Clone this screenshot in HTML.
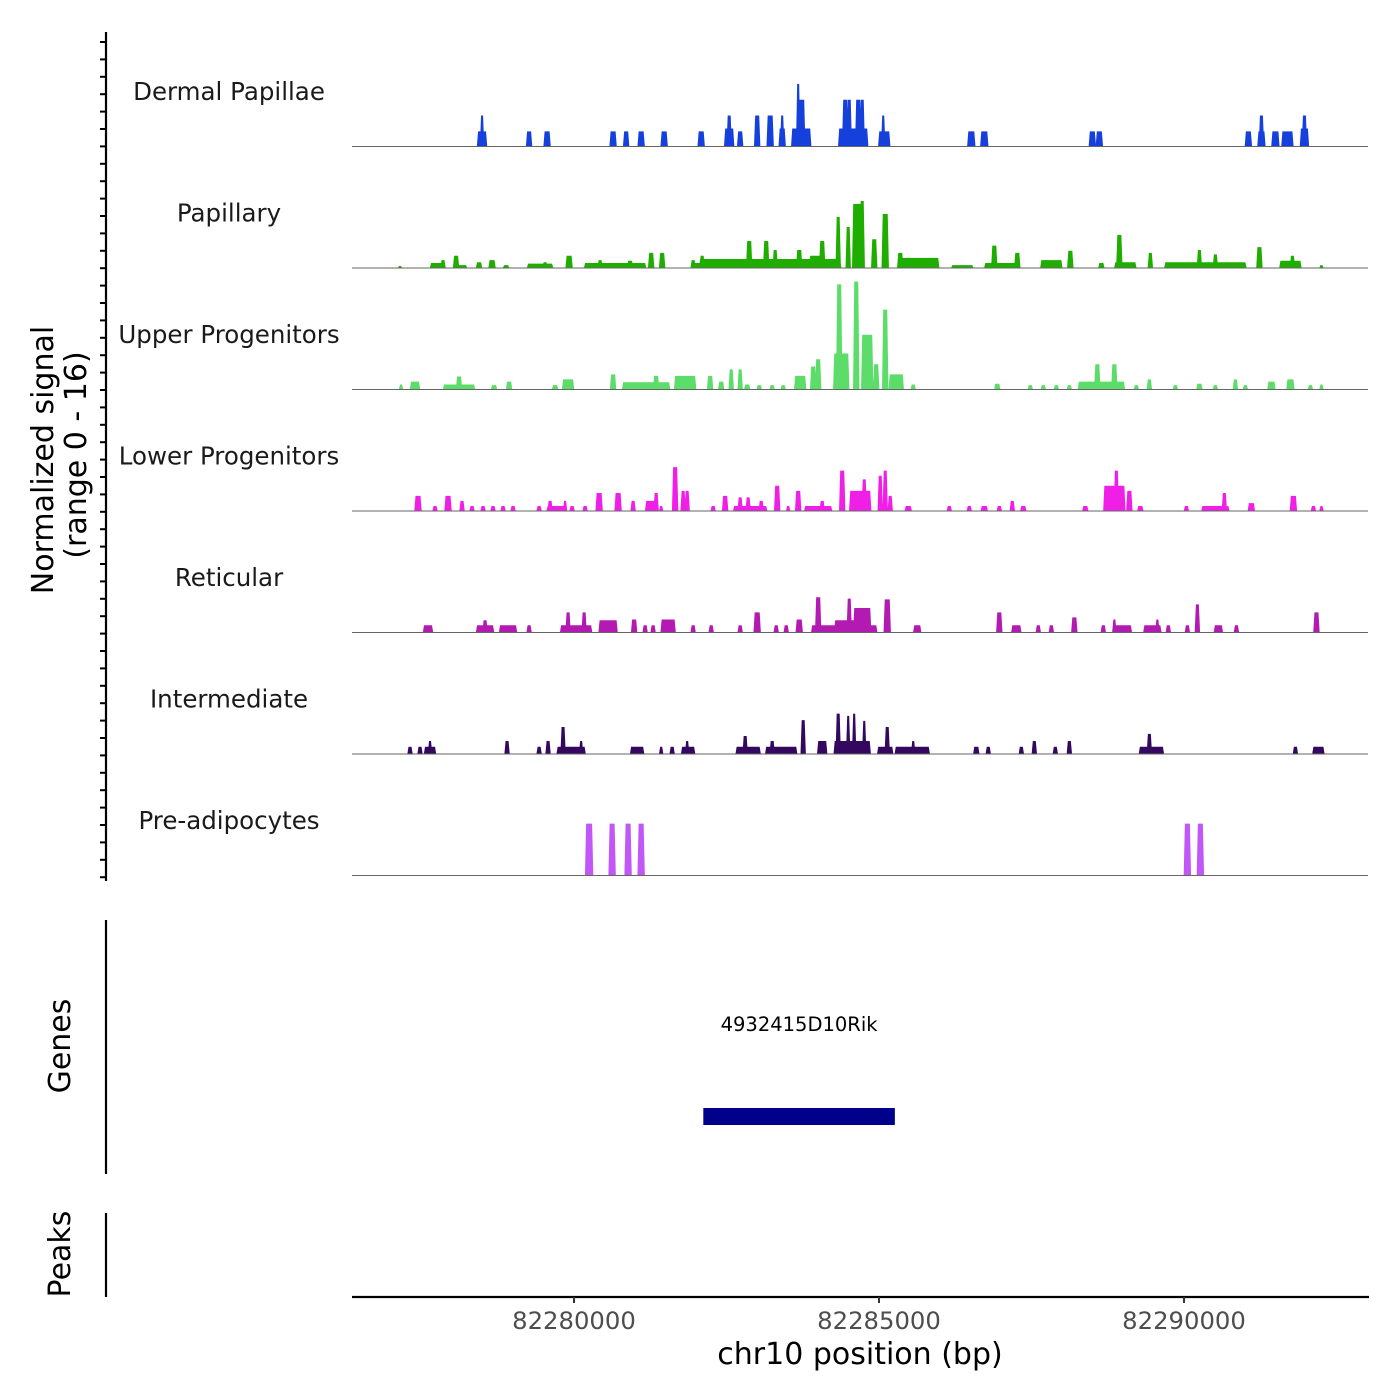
<!DOCTYPE html>
<html><head><meta charset="utf-8"><style>
html,body{margin:0;padding:0;background:#fff;}
svg{display:block;font-family:"DejaVu Sans","Liberation Sans",sans-serif;}
</style></head><body>
<svg id="chart" width="1400" height="1400" viewBox="0 0 1400 1400" xmlns="http://www.w3.org/2000/svg">
<rect width="1400" height="1400" fill="#fff"/>
<g id="tracks"></g>
<g id="axes"></g>
</svg>
<script>
// region / scale data
const regionStart = 82276361;
const regionEnd = 82293016;
const xTicks = [82280000, 82285000, 82290000];
const xTickLabels = ["82280000", "82285000", "82290000"];
const trackNames = ["Dermal Papillae","Papillary","Upper Progenitors","Lower Progenitors","Reticular","Intermediate","Pre-adipocytes"];
const trackColors = ["#1640dc","#1fad00","#5cdc68","#f01fe8","#b31ab1","#34085e","#c257f7"];
// peaks per track: [offset from regionStart (bp), width (bp), normalized signal]
const dermal = [[2132,131,2.1],[2132,33,4.3],[2903,66,2.1],[3198,82,2.1],[4280,82,2.1],[4494,66,2.1],[4740,82,2.1],[5117,82,2.1],[5724,82,2.1],[6183,131,2.5],[6183,49,4.3],[6363,66,2.1],[6642,66,4.3],[6855,82,4.3],[7052,82,2.5],[7052,33,4.3],[7364,295,2.5],[7331,66,6.5],[7314,33,8.7],[7380,66,6.5],[8216,459,2.5],[8085,66,6.5],[8151,49,6.5],[8298,66,6.5],[8364,49,6.5],[8725,164,2.1],[8708,33,4.3],[10152,98,2.1],[10365,98,2.1],[12136,82,2.1],[12251,82,2.1],[14694,82,2.1],[14908,98,2.1],[14908,49,4.3],[15137,98,2.1],[15334,164,2.1],[15613,115,2.5],[15613,49,4.3]];
const papillary = [[787,33,0.3],[1394,197,0.7],[1492,49,1.1],[1706,66,1.7],[1804,131,0.4],[2083,66,0.8],[2296,82,1.1],[2526,66,0.4],[3083,394,0.6],[3165,49,0.8],[3559,82,1.7],[4313,984,0.7],[4067,49,1.1],[4559,66,1.0],[4904,66,2.1],[5084,66,2.1],[5838,525,0.7],[5592,49,1.1],[5740,49,1.7],[6855,2296,1.25],[6511,66,3.75],[6790,66,3.75],[6937,49,2.5],[7331,66,2.5],[7593,164,1.7],[7708,66,3.75],[7970,49,7.1],[8134,49,5.7],[8298,164,8.9],[8364,49,9.3],[8561,66,4.0],[8741,82,7.5],[9282,656,1.4],[8987,66,2.1],[10004,328,0.4],[10529,66,3.1],[10906,66,2.1],[10627,492,0.7],[11464,328,1.1],[11775,66,2.4],[12284,66,0.7],[12579,66,4.6],[12677,328,0.8],[13087,49,2.1],[13989,1312,0.8],[13891,49,2.5],[14153,49,1.9],[14481,328,0.8],[14875,66,2.9],[15383,328,1.0],[15416,49,1.7],[15892,33,0.4]];
const upper = [[804,33,0.7],[1033,131,1.1],[1755,492,0.7],[1755,66,1.8],[2329,66,0.6],[2575,66,1.1],[3329,66,0.6],[3542,164,1.4],[4280,66,2.1],[4822,754,1.0],[4986,66,1.9],[5461,328,1.9],[5871,66,1.9],[6052,66,1.1],[6216,49,2.8],[6363,49,2.8],[6478,66,0.7],[6675,49,0.6],[6888,49,0.6],[7068,49,0.6],[7347,164,1.9],[7560,66,3.2],[7642,66,4.2],[8020,230,5.0],[7987,66,14.6],[8266,66,15.0],[8446,164,7.6],[8593,66,3.5],[8741,66,11.1],[8922,213,2.1],[9200,49,0.7],[10578,66,0.8],[11119,49,0.6],[11332,49,0.6],[11546,49,0.6],[11759,49,0.6],[12284,738,1.1],[12218,66,3.5],[12497,66,3.5],[12858,49,0.6],[13071,49,1.4],[13497,49,0.6],[13891,66,0.8],[14153,49,0.6],[14481,49,1.4],[14645,49,0.6],[15072,98,1.1],[15383,98,1.4],[15711,49,0.6],[15892,33,0.7]];
const lower = [[1082,82,2.1],[1361,49,0.7],[1574,82,2.1],[1804,49,1.4],[1968,49,0.7],[2148,49,0.7],[2312,49,0.7],[2476,49,0.7],[2640,49,0.7],[3067,49,0.7],[3346,279,0.7],[3247,49,1.4],[3493,33,1.4],[3608,49,0.7],[3821,49,0.7],[4051,82,2.5],[4362,82,2.5],[4608,49,1.4],[4904,164,1.4],[4986,49,2.5],[5068,33,0.7],[5297,66,6.1],[5428,49,2.8],[5494,49,2.8],[5920,49,0.7],[6117,66,2.1],[6527,525,0.7],[6363,49,1.9],[6494,49,1.9],[6708,49,1.4],[6970,66,3.5],[7150,33,0.7],[7314,66,2.8],[7642,426,0.7],[7708,49,1.4],[8036,66,5.6],[8331,328,2.8],[8397,49,4.4],[8659,49,4.9],[8741,49,5.6],[8823,49,2.1],[9118,82,0.7],[9791,49,0.7],[10119,49,0.7],[10365,82,0.7],[10611,49,0.7],[10824,49,1.4],[11004,66,0.7],[12021,66,0.7],[12497,328,3.5],[12530,49,5.6],[12743,66,2.8],[12923,66,0.7],[13678,49,0.7],[14153,426,0.7],[14300,49,2.5],[14743,82,1.1],[15432,82,2.1],[15760,49,0.7],[15892,33,0.7]];
const reticular = [[1246,131,1.0],[2181,262,1.0],[2181,49,1.7],[2558,262,1.0],[2903,49,1.0],[3674,492,1.0],[3542,49,2.8],[3805,49,2.8],[4198,279,1.7],[4625,66,1.8],[4805,49,1.0],[4936,49,1.0],[5182,213,1.8],[5592,49,1.0],[5888,49,1.0],[6363,49,1.0],[6642,82,2.8],[6954,49,1.0],[7118,49,1.0],[7331,82,1.8],[8069,1050,1.0],[7642,66,4.9],[8085,328,1.7],[8151,49,4.7],[8364,262,3.4],[8774,82,4.6],[9266,98,1.0],[10611,66,2.8],[10890,131,1.0],[11250,49,1.0],[11464,49,1.0],[11841,66,2.1],[12316,49,1.0],[12628,279,1.0],[12497,33,1.8],[13120,262,1.0],[13202,33,1.8],[13382,49,1.0],[13694,49,1.0],[13858,49,3.9],[14202,115,1.0],[14498,49,1.0],[15810,66,2.8]];
const intermediate = [[951,49,1.0],[1115,49,1.0],[1279,164,1.0],[1279,33,1.8],[2542,49,1.8],[3067,49,1.0],[3214,49,1.8],[3592,443,1.0],[3460,49,3.75],[3756,33,1.8],[4674,197,1.0],[5068,33,1.0],[5248,49,1.0],[5510,197,1.0],[5494,33,1.8],[6494,377,1.0],[6445,49,2.5],[7036,492,1.0],[6888,49,1.8],[7396,49,4.7],[7708,131,1.8],[7970,49,5.6],[8200,574,1.8],[8134,33,5.3],[8232,33,5.6],[8397,33,4.6],[8741,230,1.0],[8774,49,3.75],[9184,541,1.0],[9200,33,1.8],[10234,66,1.0],[10430,49,1.0],[10972,49,1.0],[11185,49,1.8],[11529,49,1.0],[11759,49,1.8],[13104,377,1.0],[13071,49,2.8],[15465,49,1.0],[15842,164,1.0]];
const preadipo = [[3887,98,7.2],[4264,82,7.2],[4526,82,7.2],[4740,82,7.2],[13694,82,7.2],[13907,82,7.2]];
const trackData = [dermal, papillary, upper, lower, reticular, intermediate, preadipo];
const geneName = "4932415D10Rik";
const geneStart = 82282120;
const geneEnd = 82285260;

const NS = "http://www.w3.org/2000/svg";
const plotL = 352, plotR = 1368;
const xs = bp => plotL + (bp - regionStart) / (regionEnd - regionStart) * (plotR - plotL);
const trackTop = 25, trackH = 121.5, unitPx = 7.2;
const ys = (i, v) => trackTop + (i + 1) * trackH - v * unitPx;
function mk(tag, attrs, parent) {
  const e = document.createElementNS(NS, tag);
  for (const k in attrs) e.setAttribute(k, attrs[k]);
  parent.appendChild(e);
  return e;
}
const tg = document.getElementById('tracks');
const ag = document.getElementById('axes');

trackData.forEach((peaks, i) => {
  const g = mk('g', {}, tg);
  
  
  const base = ys(i, 0);
  let d = '';
  peaks.forEach(p => {
    const c = regionStart + p[0], w = p[1];
    const x0 = xs(c - w / 2), x1 = xs(c + w / 2), yt = ys(i, p[2]);
    const r = 1.2;
    d += `M${(x0 - r).toFixed(2)},${base}L${x0.toFixed(2)},${yt.toFixed(2)}L${x1.toFixed(2)},${yt.toFixed(2)}L${(x1 + r).toFixed(2)},${base}Z`;
  });
  const path = mk('path', {d: d, fill: trackColors[i]}, g);
  
  
  const bl = mk('line', {x1: plotL, x2: plotR, y1: base, y2: base, stroke: '#666', 'stroke-width': 1}, g);
  
  
  const lab = mk('text', {x: 229, y: trackTop + i * trackH + 75, 'text-anchor': 'middle', 'font-size': 24.5, fill: '#1a1a1a'}, g);
  lab.textContent = trackNames[i];
  
  
});

// left axis for signal
const la = mk('line', {x1: 106, x2: 106, y1: 32, y2: 881, stroke: '#000', 'stroke-width': 2.2}, ag);


for (let k = 0; k < 49; k++) {
  const y = 42 + k * 17.4;
  const t = mk('line', {x1: 100, x2: 106, y1: y, y2: y, stroke: '#000', 'stroke-width': 2}, ag);
  
  
}
const yt1 = mk('text', {transform: 'translate(53,460) rotate(-90)', 'text-anchor': 'middle', 'font-size': 30, fill: '#000'}, ag);
yt1.textContent = 'Normalized signal';


const yt2 = mk('text', {transform: 'translate(86,455) rotate(-90)', 'text-anchor': 'middle', 'font-size': 30, fill: '#000'}, ag);
yt2.textContent = '(range 0 - 16)';



// genes panel
const ga = mk('line', {x1: 106, x2: 106, y1: 920, y2: 1174, stroke: '#000', 'stroke-width': 2.2}, ag);


const gt = mk('text', {transform: 'translate(70,1046) rotate(-90)', 'text-anchor': 'middle', 'font-size': 30, fill: '#000'}, ag);
gt.textContent = 'Genes';


const gr = mk('rect', {x: xs(geneStart), y: 1108, width: xs(geneEnd) - xs(geneStart), height: 17, fill: '#00008b'}, ag);


const gl = mk('text', {x: (xs(geneStart) + xs(geneEnd)) / 2, y: 1031, 'text-anchor': 'middle', 'font-size': 19.5, fill: '#000'}, ag);
gl.textContent = geneName;



// peaks panel
const pa = mk('line', {x1: 106, x2: 106, y1: 1213, y2: 1297, stroke: '#000', 'stroke-width': 2.2}, ag);


const pt = mk('text', {transform: 'translate(70,1254) rotate(-90)', 'text-anchor': 'middle', 'font-size': 30, fill: '#000'}, ag);
pt.textContent = 'Peaks';



// x axis
const xa = mk('line', {x1: plotL, x2: plotR + 1, y1: 1297, y2: 1297, stroke: '#000', 'stroke-width': 2.2}, ag);


xTicks.forEach((b, k) => {
  const x = xs(b);
  const t = mk('line', {x1: x, x2: x, y1: 1297, y2: 1303, stroke: '#333', 'stroke-width': 2}, ag);
  
  
  const l = mk('text', {x: x, y: 1329, 'text-anchor': 'middle', 'font-size': 24.3, fill: '#4d4d4d'}, ag);
  l.textContent = xTickLabels[k];
  
  
});
const xt = mk('text', {x: 860, y: 1364, 'text-anchor': 'middle', 'font-size': 30, fill: '#000'}, ag);
xt.textContent = 'chr10 position (bp)';


</script>
</body></html>
